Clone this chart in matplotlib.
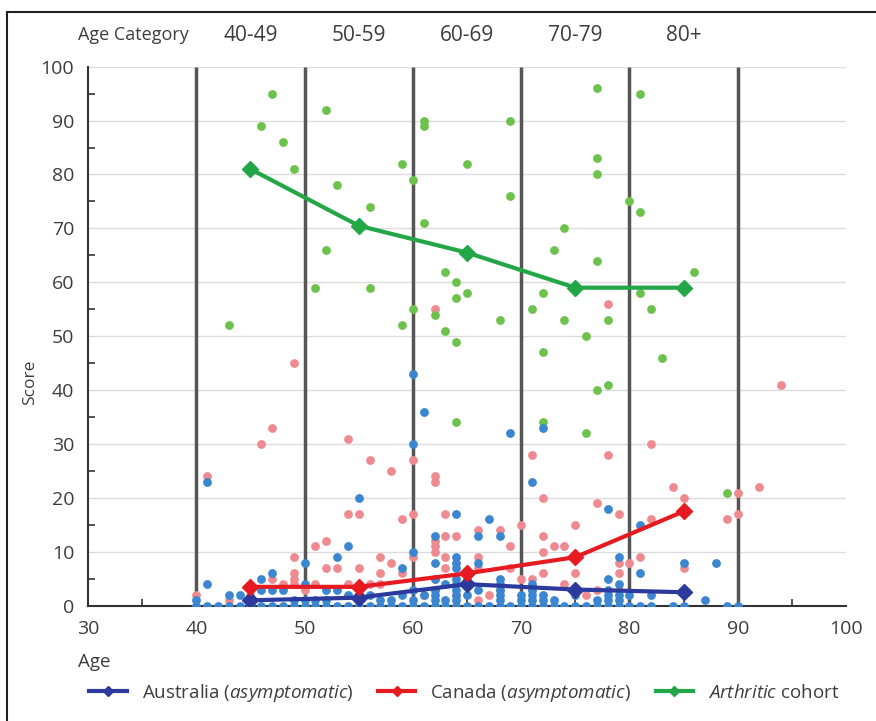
import numpy as np
import matplotlib
matplotlib.use("Agg")
import matplotlib.pyplot as plt
from matplotlib.lines import Line2D
from matplotlib.patches import Rectangle

plt.rcParams['font.family'] = ['Open Sans', 'DejaVu Sans']
plt.rcParams['mathtext.fontset'] = 'custom'
plt.rcParams['mathtext.rm'] = 'Open Sans'
plt.rcParams['mathtext.it'] = 'Open Sans:italic'

# individual subjects (age, score)
blue_zero_ages = list(range(40, 83)) + [84, 85, 89, 90]
blue_age = [40, 41, 41, 43, 44, 45, 46, 46, 47, 47, 48, 49, 50, 50, 50, 51, 52, 52, 53, 53,
            54, 54, 55, 55, 55, 56, 57, 58, 59, 59, 60, 60, 60, 60, 60, 61, 61,
            62, 62, 62, 62, 62, 62, 63, 63, 64, 64, 64, 64, 64, 64, 64, 64, 64, 65,
            66, 66, 66, 67, 68, 68, 68, 68, 68, 68, 69, 70, 70, 71, 71, 71, 71, 71,
            72, 72, 72, 73, 75, 77, 78, 78, 78, 78, 78, 79, 79, 79, 79, 80, 81, 81,
            82, 85, 87, 88]
blue_score = [1, 23, 4, 2, 2, 1, 5, 3, 6, 3, 3, 1, 8, 4, 1, 1, 3, 1, 9, 3,
              11, 2, 20, 2, 1, 2, 1, 1, 7, 2, 43, 30, 10, 3, 1, 36, 2,
              13, 8, 5, 3, 2, 1, 4, 1, 17, 9, 8, 7, 5, 4, 3, 2, 1, 2,
              13, 8, 3, 16, 13, 5, 4, 3, 2, 1, 32, 2, 1, 23, 4, 3, 2, 1,
              33, 2, 1, 1, 2, 1, 18, 5, 3, 2, 1, 9, 4, 2, 1, 2, 15, 6,
              2, 8, 1, 8]

red_age = [40, 41, 43, 45, 46, 47, 47, 48, 49, 49, 49, 49, 49, 50, 51, 51, 52, 52, 53,
           54, 54, 54, 55, 55, 56, 56, 57, 57, 57, 58, 58, 59, 59, 60, 60, 60, 61,
           62, 62, 62, 62, 62, 62, 62, 62, 63, 63, 63, 63, 64, 64, 65, 66, 66, 66, 66,
           67, 68, 68, 69, 69, 70, 70, 71, 71, 71, 72, 72, 72, 72, 73, 74, 74, 75, 75,
           76, 77, 77, 78, 78, 79, 79, 79, 79, 80, 81, 82, 82, 84, 85, 85, 89, 90, 90,
           92, 94]
red_score = [2, 24, 1, 2, 30, 33, 5, 4, 45, 9, 6, 5, 4, 3, 11, 4, 12, 7, 7,
             31, 17, 4, 17, 7, 27, 4, 9, 6, 4, 25, 8, 16, 6, 27, 17, 9, 2,
             55, 24, 23, 12, 11, 10, 5, 3, 17, 13, 9, 7, 13, 2, 5, 14, 9, 7, 1,
             2, 14, 3, 11, 7, 15, 5, 28, 5, 3, 20, 13, 10, 6, 11, 11, 4, 15, 6,
             2, 19, 3, 56, 28, 17, 8, 6, 3, 8, 9, 30, 16, 22, 20, 7, 16, 21, 17,
             22, 41]

green_age = [43, 46, 47, 48, 49, 51, 52, 52, 53, 56, 56, 59, 59, 60, 60, 61, 61, 61,
             62, 63, 63, 64, 64, 64, 64, 65, 65, 68, 69, 69, 71, 72, 72, 72, 73, 74,
             74, 76, 76, 77, 77, 77, 77, 77, 78, 78, 80, 81, 81, 81, 82, 83, 86, 89]
green_score = [52, 89, 95, 86, 81, 59, 92, 66, 78, 74, 59, 82, 52, 79, 55, 90, 89, 71,
               54, 62, 51, 60, 57, 49, 34, 58, 82, 53, 90, 76, 55, 58, 47, 34, 66, 70,
               53, 50, 32, 96, 83, 80, 64, 40, 53, 41, 75, 95, 73, 58, 55, 46, 62, 21]

# category means
mean_age = [45, 55, 65, 75, 85]
aus_mean = [1.0, 1.5, 4.0, 3.0, 2.5]
can_mean = [3.5, 3.5, 6.0, 9.0, 17.5]
arth_mean = [81.0, 70.5, 65.5, 59.0, 59.0]

categories = ['40-49', '50-59', '60-69', '70-79', '80+']
boundaries = [40, 50, 60, 70, 80, 90]

c_blue_pt = '#3a86d0'
c_red_pt = '#ee8a90'
c_green_pt = '#6cc24a'
c_blue_ln = '#2b3a9c'
c_red_ln = '#e61b22'
c_green_ln = '#23a746'
txt = '#3d3d3d'

fig = plt.figure(figsize=(8.76, 7.21), dpi=100)
ax = fig.add_axes([0.1005, 0.1599, 0.8653, 0.7476])

ax.set_xlim(30, 100)
ax.set_ylim(0, 100)
for y in range(10, 101, 10):
    ax.axhline(y, color='#dcdcdc', lw=1, zorder=0)
for b in boundaries:
    ax.plot([b, b], [0, 100], color='#555555', lw=2.5, zorder=1, solid_capstyle='butt')

ax.scatter(red_age, red_score, s=40, color=c_red_pt, lw=0, zorder=3)
ax.scatter(green_age, green_score, s=40, color=c_green_pt, lw=0, zorder=4)
ax.scatter(blue_zero_ages + blue_age, [0] * len(blue_zero_ages) + blue_score,
           s=40, color=c_blue_pt, lw=0, zorder=5)

ax.plot(mean_age, aus_mean, color=c_blue_ln, lw=3, marker='D', ms=8, zorder=6)
ax.plot(mean_age, can_mean, color=c_red_ln, lw=3, marker='D', ms=8, zorder=7)
ax.plot(mean_age, arth_mean, color=c_green_ln, lw=3, marker='D', ms=8, zorder=8)

for s in ['top', 'right']:
    ax.spines[s].set_visible(False)
for s in ['left', 'bottom']:
    ax.spines[s].set_color('#333333')
    ax.spines[s].set_linewidth(1.5)

ax.set_xticks(range(30, 101, 10))
ax.set_yticks(range(0, 101, 10))
ax.set_xticks(range(35, 100, 10), minor=True)
ax.set_yticks(range(5, 100, 10), minor=True)
ax.tick_params(which='major', direction='in', length=0, labelsize=14, labelcolor=txt, pad=10)
ax.tick_params(which='minor', direction='in', length=5, width=1.2, color='#333333')

for label, x in zip(categories, mean_age):
    ax.text(x, 1.058, label, transform=ax.get_xaxis_transform(), ha='center', va='center',
            fontsize=15, color=txt)
ax.text(39.3, 1.058, 'Age Category', transform=ax.get_xaxis_transform(), ha='right',
        va='center', fontsize=13, color=txt)

fig.text(0.034, 0.47, 'Score', rotation=90, ha='center', va='center', fontsize=12.5, color=txt)
fig.text(0.089, 0.082, 'Age', ha='left', va='center', fontsize=13.5, color=txt)

handles = [Line2D([], [], color=c_blue_ln, lw=3, marker='D', ms=5),
           Line2D([], [], color=c_red_ln, lw=3, marker='D', ms=5),
           Line2D([], [], color=c_green_ln, lw=3, marker='D', ms=5)]
labels = [r'Australia $\it{(asymptomatic)}$', r'Canada $\it{(asymptomatic)}$',
          r'$\it{Arthritic}$ cohort']
leg = fig.legend(handles, labels, loc='center', bbox_to_anchor=(0.53, 0.039), ncol=3,
                 frameon=False, fontsize=13.5, handlelength=2.0, columnspacing=1.3,
                 handletextpad=0.8)
for t in leg.get_texts():
    t.set_color(txt)

fig.patches.append(Rectangle((0.008, -0.01), 1.2, 0.993, transform=fig.transFigure,
                             fill=False, edgecolor='#222222', lw=1.5))

fig.savefig('out.png', dpi=100)
